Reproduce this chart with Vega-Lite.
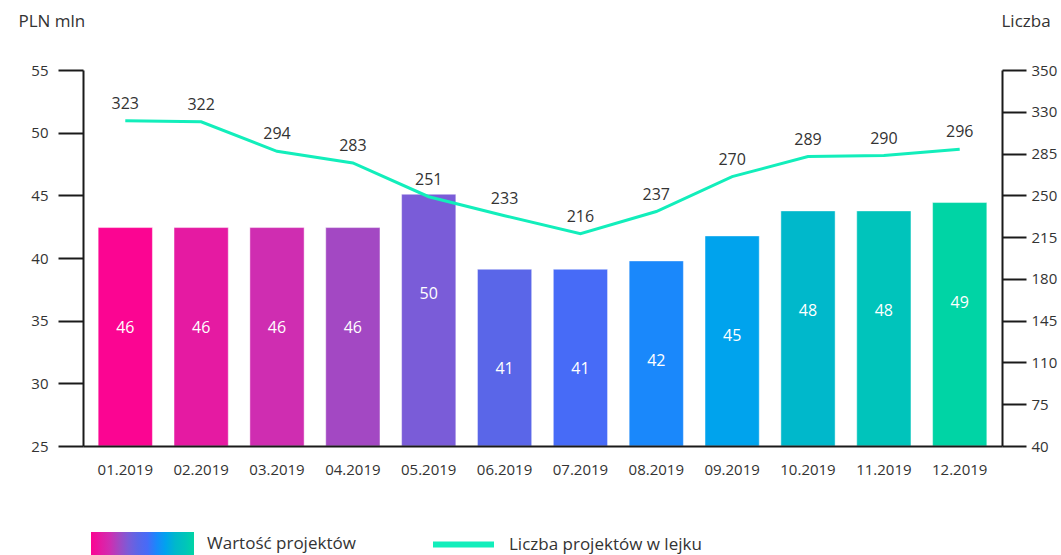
{
  "$schema": "https://vega.github.io/schema/vega-lite/v6.json",
  "width": 919,
  "height": 376,
  "autosize": {"type": "none"},
  "padding": {"left": 83, "top": 70, "right": 59, "bottom": 109},
  "background": "#ffffff",
  "config": {
    "view": {"stroke": null},
    "font": "Open Sans",
    "axis": {"labelFont": "Open Sans", "titleFont": "Open Sans", "labelColor": "#333333", "titleColor": "#333333", "grid": false, "titleFontWeight": "normal"},
    "legend": {"labelFont": "Open Sans", "titleFont": "Open Sans", "labelColor": "#333333", "titleColor": "#333333", "titleFontWeight": "normal"}
  },
  "data": {
    "values": [
      {"miesiac": "01.2019", "m": 1, "wartosc": 46, "liczba": 323},
      {"miesiac": "02.2019", "m": 2, "wartosc": 46, "liczba": 322},
      {"miesiac": "03.2019", "m": 3, "wartosc": 46, "liczba": 294},
      {"miesiac": "04.2019", "m": 4, "wartosc": 46, "liczba": 283},
      {"miesiac": "05.2019", "m": 5, "wartosc": 50, "liczba": 251},
      {"miesiac": "06.2019", "m": 6, "wartosc": 41, "liczba": 233},
      {"miesiac": "07.2019", "m": 7, "wartosc": 41, "liczba": 216},
      {"miesiac": "08.2019", "m": 8, "wartosc": 42, "liczba": 237},
      {"miesiac": "09.2019", "m": 9, "wartosc": 45, "liczba": 270},
      {"miesiac": "10.2019", "m": 10, "wartosc": 48, "liczba": 289},
      {"miesiac": "11.2019", "m": 11, "wartosc": 48, "liczba": 290},
      {"miesiac": "12.2019", "m": 12, "wartosc": 49, "liczba": 296}
    ]
  },
  "layer": [
    {
      "layer": [
        {
          "mark": {"type": "bar", "stroke": "#ffffff", "strokeOpacity": 0.45, "strokeWidth": 1},
          "encoding": {
            "x": {"field": "miesiac", "type": "ordinal", "sort": null, "title": null,
              "scale": {"paddingInner": 0.285, "paddingOuter": 0.2},
              "axis": {"ticks": false, "domainColor": "#1a1a1a", "domainWidth": 2, "labelAngle": 0, "labelFontSize": 15, "labelPadding": 16, "zindex": 1}},
            "y": {"field": "wartosc", "type": "quantitative", "scale": {"domain": [19.8, 64.9], "zero": false, "nice": false, "clamp": true}, "axis": null},
            "color": {"field": "m", "type": "quantitative",
              "scale": {"domain": [1, 2, 3, 4, 5, 6, 7, 8, 9, 10, 11, 12],
                "range": ["#fb0592", "#e51aa2", "#cf2db1", "#a348c3", "#7a5cd8", "#5a66e8", "#476bf7", "#1a88fb", "#00a3ed", "#00b8cb", "#00c4bb", "#00d4a5"],
                "interpolate": "rgb"},
              "legend": {"orient": "none", "legendX": 8, "legendY": 462, "direction": "horizontal", "gradientLength": 103, "gradientThickness": 24,
                "gradientStrokeWidth": 0, "labelExpr": "''", "labelFontSize": 1, "labelOffset": 0, "title": "Wartość projektów", "titleOrient": "right", "titlePadding": 13,
                "titleFontSize": 17, "titleAnchor": "middle", "titleBaseline": "middle", "titleLimit": 0, "padding": 0}}
          }
        },
        {
          "mark": {"type": "text", "color": "#ffffff", "fontSize": 16, "baseline": "middle", "dy": 100, "font": "Open Sans"},
          "encoding": {
            "x": {"field": "miesiac", "type": "ordinal", "sort": null, "title": null,
              "axis": {"ticks": false, "domainColor": "#1a1a1a", "domainWidth": 2, "labelAngle": 0, "labelFontSize": 15, "labelPadding": 16, "zindex": 1}},
            "y": {"field": "wartosc", "type": "quantitative", "scale": {"domain": [19.8, 64.9], "zero": false, "nice": false, "clamp": true}, "axis": null},
            "text": {"field": "wartosc", "type": "quantitative"}
          }
        }
      ]
    },
    {
      "mark": {"type": "rule", "opacity": 0},
      "encoding": {
        "y": {"datum": 25, "type": "quantitative", "scale": {"domain": [25, 55], "nice": false, "zero": false},
          "axis": {"orient": "left", "values": [25, 30, 35, 40, 45, 50, 55], "domainColor": "#1a1a1a", "domainWidth": 2, "tickColor": "#1a1a1a", "tickWidth": 2, "tickSize": 25,
            "labelPadding": 10, "labelFontSize": 15, "title": "PLN mln", "titleAngle": 0, "titleX": -65, "titleY": -44, "titleAlign": "left", "titleBaseline": "alphabetic", "titleFontSize": 17}}
      }
    },
    {
      "layer": [
        {
          "mark": {"type": "line", "strokeWidth": 3},
          "encoding": {
            "x": {"field": "miesiac", "type": "ordinal", "sort": null, "title": null,
              "axis": {"ticks": false, "domainColor": "#1a1a1a", "domainWidth": 2, "labelAngle": 0, "labelFontSize": 15, "labelPadding": 16, "zindex": 1}},
            "y": {"field": "liczba", "type": "quantitative", "scale": {"domain": [15, 371], "zero": false, "nice": false}, "axis": null},
            "stroke": {"datum": "Liczba projektów w lejku", "type": "nominal", "scale": {"range": ["#12eebb"]},
              "legend": {"orient": "none", "legendX": 347, "legendY": 441, "title": null, "symbolType": "stroke", "symbolSize": 3721, "symbolStrokeWidth": 6,
                "labelFontSize": 17, "labelOffset": 12, "labelLimit": 0, "padding": 0}}
          }
        },
        {
          "mark": {"type": "text", "color": "#333333", "fontSize": 16, "baseline": "middle", "dy": -17, "font": "Open Sans"},
          "encoding": {
            "x": {"field": "miesiac", "type": "ordinal", "sort": null, "title": null,
              "axis": {"ticks": false, "domainColor": "#1a1a1a", "domainWidth": 2, "labelAngle": 0, "labelFontSize": 15, "labelPadding": 16, "zindex": 1}},
            "y": {"field": "liczba", "type": "quantitative", "scale": {"domain": [15, 371], "zero": false, "nice": false}, "axis": null},
            "text": {"field": "liczba", "type": "quantitative"}
          }
        }
      ]
    },
    {
      "mark": {"type": "rule", "opacity": 0},
      "encoding": {
        "y": {"datum": 40, "type": "quantitative", "scale": {"domain": [40, 355], "nice": false, "zero": false},
          "axis": {"orient": "right", "values": [40, 75, 110, 145, 180, 215, 250, 285, 320, 355],
            "labelExpr": "datum.value == 320 ? '330' : datum.value == 355 ? '350' : datum.label",
            "domainColor": "#1a1a1a", "domainWidth": 2, "tickColor": "#1a1a1a", "tickWidth": 2, "tickSize": 24,
            "labelPadding": 5, "labelFontSize": 15, "title": "Liczba", "titleAngle": 0, "titleX": -1, "titleY": -44, "titleAlign": "left", "titleBaseline": "alphabetic", "titleFontSize": 17}}
      }
    }
  ],
  "resolve": {"scale": {"y": "independent"}, "axis": {"y": "independent"}}
}
